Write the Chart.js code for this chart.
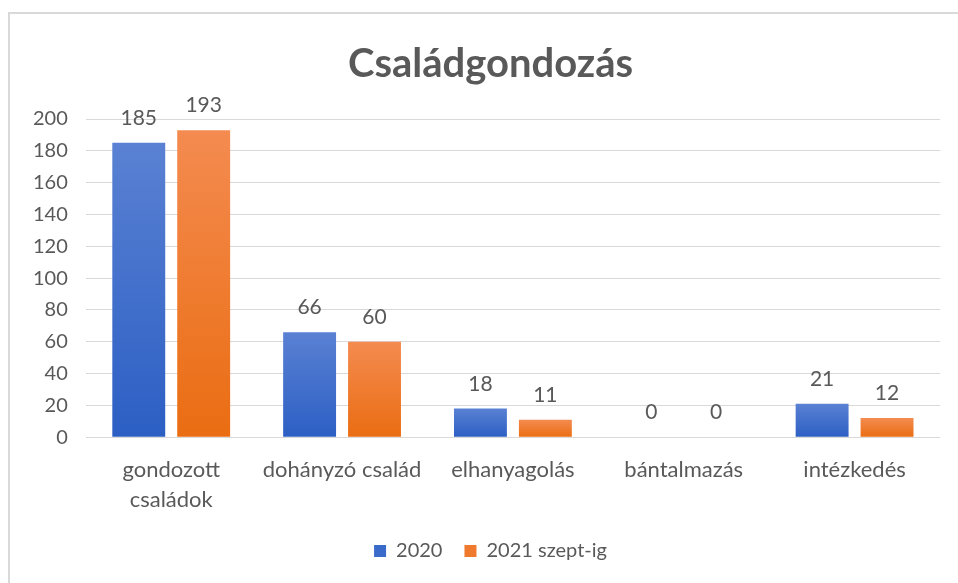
<!DOCTYPE html>
<html>
<head>
<meta charset="utf-8">
<script src="https://cdn.jsdelivr.net/npm/chart.js@4/dist/chart.umd.min.js"></script>
<style>
  html, body { margin: 0; padding: 0; background: #fff; overflow: hidden; }
  #frame {
    position: absolute; left: 8px; top: 12px;
    width: 962px; height: 580px;
    border: 2px solid #d9d9d9; background: #fff;
  }
  #frame canvas { display: block; }
</style>
</head>
<body>
<div id="frame"><canvas id="chart" width="962" height="580"></canvas></div>
<script>
var categories = [['gondozott', 'családok'], 'dohányzó család', 'elhanyagolás', 'bántalmazás', 'intézkedés'];
var values2020 = [185, 66, 18, 0, 21];
var values2021 = [193, 60, 11, 0, 12];
var seriesNames = ['2020', '2021 szept-ig'];
var yTicks = { min: 0, max: 200, step: 20 };

var textColor = '#595959';
var fontFamily = 'Lato, "Open Sans", sans-serif';

// vertical gradient per bar, lighter at top like Excel
function barGradient( top, bottom ) {
	return function ( context ) {
		var chart = context.chart;
		if ( !chart.chartArea || context.parsed === undefined ) return bottom;
		var y = chart.scales.y;
		var y0 = y.getPixelForValue( context.parsed.y );
		var y1 = y.getPixelForValue( 0 );
		if ( y1 - y0 < 1 ) return bottom;
		var g = chart.ctx.createLinearGradient( 0, y0, 0, y1 );
		g.addColorStop( 0, top );
		g.addColorStop( 1, bottom );
		return g;
	};
}

var valueLabels = {
	id: 'valueLabels',
	afterDatasetsDraw: function ( chart ) {
		var ctx = chart.ctx;
		ctx.save();
		ctx.font = '21px ' + fontFamily;
		ctx.fillStyle = textColor;
		ctx.textAlign = 'center';
		ctx.textBaseline = 'alphabetic';
		chart.data.datasets.forEach( function ( ds, i ) {
			chart.getDatasetMeta( i ).data.forEach( function ( bar, j ) {
				ctx.fillText( String( ds.data[j] ), bar.x, bar.y - 18 );
			} );
		} );
		ctx.restore();
	}
};

// title and legend are centred on the whole frame, not the plot
var centerBlocks = {
	id: 'centerBlocks',
	afterLayout: function ( chart ) {
		if ( chart.titleBlock ) chart.titleBlock.left += 26;
		if ( chart.legend ) chart.legend.left += 26;
	}
};

new Chart( document.getElementById( 'chart' ), {
	type: 'bar',
	data: {
		labels: categories,
		datasets: [
			{
				label: seriesNames[0],
				data: values2020,
				backgroundColor: barGradient( '#5a81d3', '#2c5fc4' ),
				categoryPercentage: 0.76,
				barPercentage: 0.815
			},
			{
				label: seriesNames[1],
				data: values2021,
				backgroundColor: barGradient( '#f48b50', '#ea6d12' ),
				categoryPercentage: 0.76,
				barPercentage: 0.815
			}
		]
	},
	options: {
		responsive: false,
		animation: false,
		layout: { padding: { left: 5, right: 32, top: 0, bottom: 23 } },
		plugins: {
			title: {
				display: true,
				text: 'Családgondozás',
				color: textColor,
				font: { family: fontFamily, size: 40, weight: 'bold' },
				padding: { top: 26, bottom: 31 }
			},
			legend: {
				position: 'bottom',
				labels: {
					color: textColor,
					font: { family: fontFamily, size: 20 },
					boxWidth: 12,
					boxHeight: 12,
					padding: 22,
					generateLabels: function ( chart ) {
						return chart.data.datasets.map( function ( ds, i ) {
							return {
								text: ds.label,
								fillStyle: i === 0 ? '#3a6bca' : '#ef7a2e',
								strokeStyle: 'transparent',
								lineWidth: 0,
								fontColor: textColor,
								datasetIndex: i
							};
						} );
					}
				}
			},
			tooltip: { enabled: false }
		},
		scales: {
			x: {
				grid: { display: false, drawTicks: false },
				border: { display: false },
				afterFit: function ( scale ) { scale.height -= 14; },
				ticks: {
					color: textColor,
					padding: 18,
					maxRotation: 0,
					autoSkip: false,
					font: { family: fontFamily, size: 22, lineHeight: 1.36 }
				}
			},
			y: {
				min: yTicks.min,
				max: yTicks.max,
				grid: { color: '#d9d9d9', lineWidth: 1, drawTicks: false },
				border: { display: false },
				ticks: {
					stepSize: yTicks.step,
					color: textColor,
					padding: 18,
					font: { family: fontFamily, size: 20 }
				}
			}
		}
	},
	plugins: [valueLabels, centerBlocks]
} );
</script>
</body>
</html>
